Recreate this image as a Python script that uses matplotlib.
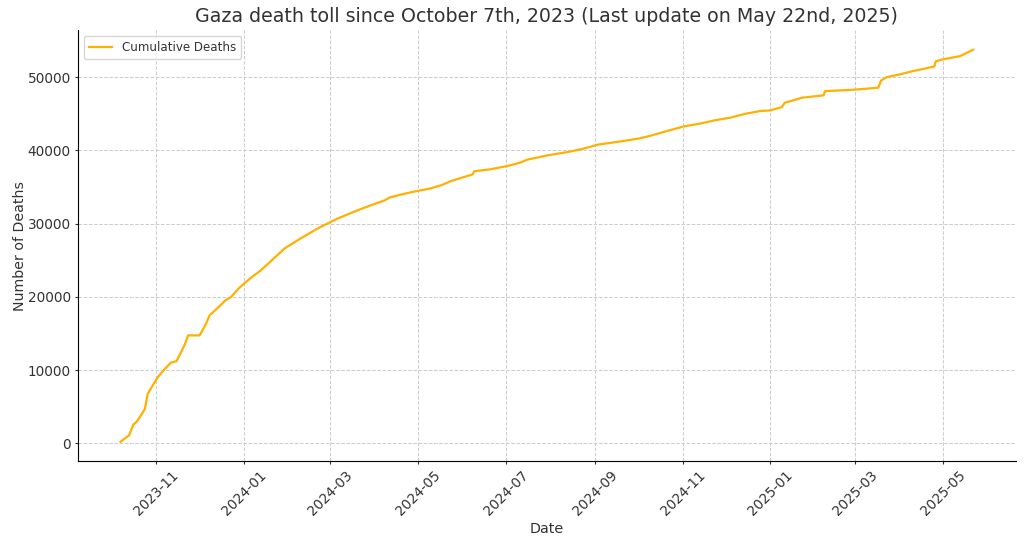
import pandas as pd
import numpy as np
import matplotlib.pyplot as plt
import matplotlib.dates as mdates

# cumulative deaths
dates = [
    "2023-10-07", "2023-10-13", "2023-10-16", "2023-10-18", "2023-10-22", "2023-10-24",
    "2023-10-26", "2023-10-29", "2023-11-02", "2023-11-07", "2023-11-11", "2023-11-15",
    "2023-11-17", "2023-11-21", "2023-11-23", "2023-12-01", "2023-12-05", "2023-12-08",
    "2023-12-13", "2023-12-15", "2023-12-19", "2023-12-23", "2023-12-28", "2024-01-05",
    "2024-01-12", "2024-01-19", "2024-01-29", "2024-02-09", "2024-02-21", "2024-03-01",
    "2024-03-06", "2024-03-17", "2024-03-29", "2024-04-08", "2024-04-11", "2024-04-19",
    "2024-04-27", "2024-05-09", "2024-05-17", "2024-05-24", "2024-06-08", "2024-06-09",
    "2024-06-20", "2024-07-02", "2024-07-11", "2024-07-16", "2024-07-30", "2024-08-13",
    "2024-08-24", "2024-09-03", "2024-09-19", "2024-10-01", "2024-10-08", "2024-10-21",
    "2024-11-02", "2024-11-13", "2024-11-23", "2024-12-04", "2024-12-15", "2024-12-25",
    "2025-01-01", "2025-01-09", "2025-01-11", "2025-01-17", "2025-01-23", "2025-02-07",
    "2025-02-08", "2025-02-28", "2025-03-17", "2025-03-19", "2025-03-23", "2025-04-01",
    "2025-04-10", "2025-04-18", "2025-04-25", "2025-04-26", "2025-04-30", "2025-05-07",
    "2025-05-13", "2025-05-22",
]
deaths = [
    232, 1100, 2600, 2900, 4060, 4740,
    6790, 7790, 9060, 10200, 11020, 11240,
    12020, 13620, 14750, 14750, 16120, 17490,
    18400, 18760, 19540, 19990, 21130, 22500,
    23540, 24770, 26600, 27960, 29330, 30230,
    30700, 31600, 32510, 33200, 33560, 33970,
    34330, 34790, 35240, 35830, 36740, 37150,
    37420, 37870, 38340, 38750, 39330, 39780,
    40240, 40790, 41240, 41610, 41920, 42650,
    43290, 43660, 44100, 44470, 45020, 45380,
    45470, 45920, 46520, 46840, 47200, 47520,
    48100, 48290, 48560, 49560, 50010, 50380,
    50830, 51160, 51470, 52150, 52390, 52660,
    52880, 53760,
]

text_color = "#333333"
plt.rcParams["text.color"] = text_color
plt.rcParams["axes.labelcolor"] = text_color
plt.rcParams["xtick.color"] = text_color
plt.rcParams["ytick.color"] = text_color

df = pd.DataFrame({"date": pd.to_datetime(dates), "deaths": deaths})

fig, ax = plt.subplots(figsize=(10.24, 5.46), dpi=100)
ax.plot(df["date"], df["deaths"], color="#FFB000", linewidth=1.6, label="Cumulative Deaths")

ax.set_title("Gaza death toll since October 7th, 2023 (Last update on May 22nd, 2025)", fontsize=13.7)
ax.set_xlabel("Date", fontsize=10.4)
ax.set_ylabel("Number of Deaths", fontsize=10.2)
ax.yaxis.set_label_coords(-0.054, 0.5)
ax.xaxis.set_label_coords(0.5, -0.141)
ax.tick_params(labelsize=9.8, length=2.5, pad=2.5)
ax.xaxis.set_major_locator(mdates.MonthLocator(bymonth=[1, 3, 5, 7, 9, 11]))
ax.xaxis.set_major_formatter(mdates.DateFormatter("%Y-%m"))
plt.setp(ax.get_xticklabels(), rotation=45)

ax.grid(True, linestyle="--", color="#cccccc", linewidth=0.7)
ax.spines["top"].set_visible(False)
ax.spines["right"].set_visible(False)
ax.legend(loc="upper left", fontsize=8.6)

fig.subplots_adjust(left=0.076, right=0.992, top=0.945, bottom=0.155)
fig.savefig("out.png", dpi=100)
